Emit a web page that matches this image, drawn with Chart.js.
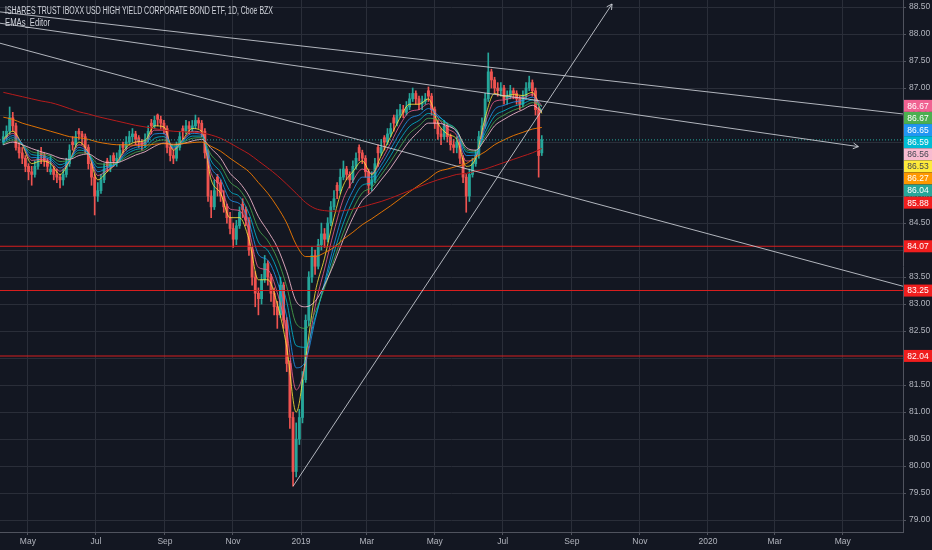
<!DOCTYPE html>
<html lang="en">
<head>
<meta charset="UTF-8">
<title>HYG 1D</title>
<script src="https://cdn.jsdelivr.net/npm/chart.js@4.4.1/dist/chart.umd.min.js"></script>
<style>
  html, body { margin: 0; padding: 0; background: #131722; }
  #wrap { width: 932px; height: 550px; }
</style>
</head>
<body>
<div id="wrap"><canvas id="chart"></canvas></div>
<script>
// ---------- data ----------
const titleText = 'ISHARES TRUST IBOXX USD HIGH YIELD CORPORATE BOND ETF, 1D, Cboe BZX';
const studyText = 'EMAs_Editor';

const viewStart = '2018-04-06';
const viewEnd = '2020-06-24';
const firstCandle = '2018-04-09';
const lastCandle = '2019-08-05';   // candles are spread evenly between these dates

const tickDates = ['2018-05-01','2018-07-01','2018-09-01','2018-11-01','2019-01-01','2019-03-01',
  '2019-05-01','2019-07-01','2019-09-01','2019-11-01','2020-01-01','2020-03-01','2020-05-01'];
const tickLabels = ['May','Jul','Sep','Nov','2019','Mar','May','Jul','Sep','Nov','2020','Mar','May'];

const opens = [
  86.0, 86.1, 86.2, 86.45, 86.3, 85.9, 85.8, 85.7, 85.55, 85.45,
  85.4, 85.55, 85.8, 85.75, 85.65, 85.45, 85.5, 85.4, 85.35, 85.3,
  85.4, 85.6, 86.0, 85.95, 86.2, 86.15, 86.1, 85.9, 85.6, 85.35,
  85.0, 85.1, 85.3, 85.65, 85.55, 85.75, 85.65, 85.7, 85.95, 85.9,
  86.0, 86.1, 86.15, 86.08, 86.0, 85.95, 86.05, 86.35, 86.3, 86.5,
  86.42, 86.35, 86.25, 85.9, 85.75, 85.7, 85.9, 86.25, 86.2, 86.3,
  86.25, 86.3, 86.4, 86.35, 86.2, 85.8, 85.0, 84.8, 85.35, 85.25,
  85.0, 84.8, 84.6, 84.4, 84.2, 84.45, 84.85, 84.75, 84.55, 84.0,
  83.5, 83.2, 83.1, 83.45, 83.75, 83.5, 83.2, 82.95, 82.8, 83.35,
  82.7, 81.9, 80.9, 79.9, 80.5, 80.9, 81.6, 82.7, 83.5, 83.9,
  83.7, 84.1, 84.3, 84.2, 84.5, 84.8, 85.2, 85.1, 85.35, 85.5,
  85.4, 85.3, 85.55, 85.9, 85.8, 85.7, 85.45, 85.2, 85.3, 85.9,
  85.8, 86.08, 86.0, 86.15, 86.45, 86.35, 86.5, 86.6, 86.55, 86.65,
  86.8, 86.9, 86.8, 86.7, 86.75, 86.95, 86.85, 86.6, 86.35, 86.15,
  86.1, 86.3, 86.1, 85.95, 85.9, 86.0, 85.7, 85.35, 85.0, 85.4,
  85.6, 85.75, 86.1, 86.3, 86.8, 87.3, 87.15, 87.0, 86.95, 87.0,
  86.8, 86.85, 86.95, 86.9, 86.8, 86.7, 86.85, 87.0, 87.1, 86.95,
  86.6, 85.8
];
const highs = [
  86.2, 86.3, 86.65, 86.55, 86.35, 86.0, 85.9, 85.75, 85.6, 85.55,
  85.65, 85.85, 85.9, 85.8, 85.7, 85.75, 85.55, 85.5, 85.4, 85.5,
  85.7, 85.95, 86.1, 86.2, 86.25, 86.2, 86.15, 85.95, 85.65, 85.4,
  85.25, 85.4, 85.6, 85.7, 85.75, 85.8, 85.8, 85.95, 86.0, 86.1,
  86.2, 86.25, 86.2, 86.12, 86.05, 86.15, 86.3, 86.42, 86.48, 86.52,
  86.48, 86.4, 86.3, 85.95, 85.85, 86.0, 86.2, 86.3, 86.4, 86.38,
  86.4, 86.5, 86.45, 86.4, 86.25, 85.85, 85.1, 85.3, 85.4, 85.3,
  85.1, 84.85, 84.7, 84.5, 84.55, 84.8, 84.95, 84.8, 84.6, 84.05,
  83.6, 83.3, 83.55, 83.9, 83.8, 83.55, 83.3, 83.05, 83.5, 83.4,
  82.75, 81.95, 81.0, 80.8, 81.05, 81.75, 82.8, 83.6, 84.05, 84.0,
  84.2, 84.5, 84.4, 84.6, 84.9, 85.1, 85.25, 85.5, 85.65, 85.55,
  85.45, 85.65, 85.8, 85.95, 85.85, 85.75, 85.5, 85.45, 85.7, 85.95,
  86.05, 86.12, 86.25, 86.35, 86.5, 86.6, 86.7, 86.68, 86.75, 86.9,
  87.0, 86.95, 86.85, 86.85, 86.9, 87.02, 86.9, 86.65, 86.4, 86.25,
  86.4, 86.35, 86.15, 86.05, 86.1, 86.05, 85.75, 85.4, 85.5, 85.7,
  85.85, 86.2, 86.45, 86.9, 87.65, 87.35, 87.2, 87.1, 87.1, 87.05,
  86.95, 87.05, 87.0, 86.95, 86.85, 86.95, 87.1, 87.22, 87.15, 87.0,
  86.65, 86.12
];
const lows = [
  85.95, 86.05, 86.15, 86.2, 85.85, 85.7, 85.6, 85.45, 85.3, 85.2,
  85.35, 85.5, 85.6, 85.55, 85.45, 85.4, 85.3, 85.25, 85.15, 85.2,
  85.35, 85.55, 85.85, 85.9, 86.05, 85.95, 85.8, 85.5, 85.2, 84.65,
  84.9, 85.05, 85.25, 85.45, 85.45, 85.55, 85.55, 85.65, 85.8, 85.85,
  85.95, 86.0, 85.95, 85.9, 85.85, 85.9, 86.0, 86.15, 86.25, 86.3,
  86.25, 86.15, 85.8, 85.65, 85.6, 85.65, 85.85, 86.05, 86.15, 86.15,
  86.2, 86.25, 86.25, 86.1, 85.7, 84.9, 84.6, 84.75, 85.0, 84.9,
  84.7, 84.5, 84.3, 84.05, 84.1, 84.4, 84.6, 84.45, 83.9, 83.35,
  82.95, 82.8, 83.0, 83.4, 83.35, 83.05, 82.8, 82.55, 82.75, 82.55,
  81.75, 80.7, 79.63, 79.8, 80.4, 80.8, 81.55, 82.6, 83.4, 83.55,
  83.65, 84.0, 84.05, 84.15, 84.45, 84.75, 84.95, 85.05, 85.3, 85.3,
  85.15, 85.25, 85.5, 85.65, 85.6, 85.35, 85.05, 85.1, 85.25, 85.55,
  85.75, 85.85, 85.95, 86.1, 86.2, 86.3, 86.45, 86.45, 86.5, 86.6,
  86.75, 86.7, 86.6, 86.6, 86.7, 86.75, 86.5, 86.25, 86.05, 85.95,
  86.05, 86.0, 85.85, 85.8, 85.8, 85.6, 85.25, 84.7, 84.9, 85.35,
  85.55, 85.7, 86.05, 86.25, 86.75, 87.0, 86.9, 86.85, 86.85, 86.7,
  86.7, 86.8, 86.8, 86.7, 86.6, 86.65, 86.8, 86.95, 86.85, 86.5,
  85.35, 85.75
];
const closes = [
  86.1, 86.2, 86.45, 86.3, 85.9, 85.8, 85.7, 85.55, 85.45, 85.4,
  85.55, 85.7, 85.75, 85.65, 85.55, 85.5, 85.4, 85.35, 85.3, 85.4,
  85.6, 85.85, 85.95, 86.1, 86.15, 86.1, 85.9, 85.6, 85.35, 85.0,
  85.1, 85.3, 85.5, 85.55, 85.6, 85.65, 85.7, 85.85, 85.9, 86.0,
  86.1, 86.15, 86.05, 86.0, 85.95, 86.05, 86.2, 86.3, 86.4, 86.42,
  86.35, 86.25, 85.9, 85.75, 85.7, 85.9, 86.1, 86.2, 86.3, 86.25,
  86.3, 86.4, 86.35, 86.2, 85.8, 85.0, 84.8, 85.1, 85.25, 85.0,
  84.8, 84.6, 84.4, 84.2, 84.45, 84.7, 84.75, 84.55, 84.0, 83.5,
  83.2, 83.1, 83.45, 83.75, 83.5, 83.2, 82.95, 82.8, 83.35, 82.7,
  81.9, 80.9, 79.9, 80.5, 80.9, 81.6, 82.7, 83.5, 83.9, 83.7,
  84.1, 84.3, 84.2, 84.5, 84.8, 84.95, 85.1, 85.35, 85.5, 85.4,
  85.3, 85.55, 85.7, 85.8, 85.7, 85.45, 85.2, 85.3, 85.6, 85.8,
  85.9, 86.0, 86.15, 86.25, 86.35, 86.5, 86.6, 86.55, 86.65, 86.8,
  86.9, 86.8, 86.7, 86.75, 86.8, 86.85, 86.6, 86.35, 86.15, 86.1,
  86.3, 86.1, 85.95, 85.9, 86.0, 85.7, 85.35, 85.0, 85.4, 85.6,
  85.75, 86.1, 86.3, 86.8, 87.3, 87.15, 87.0, 86.95, 87.0, 86.8,
  86.85, 86.95, 86.9, 86.8, 86.7, 86.85, 87.0, 87.1, 86.95, 86.6,
  85.75, 86.04
];

// EMA values, one every 3rd candle
const emaStep = 3;
const emaYellow = [
  86.05, 86.2, 85.95, 85.6, 85.65, 85.6, 85.4, 85.65, 86.0, 85.8,
  85.3, 85.45, 85.62, 85.9, 86.0, 86.03, 86.3, 86.28, 85.85, 86.05,
  86.25, 86.2, 85.3, 85.05, 84.6, 84.6, 84.2, 83.45, 83.45, 83.0,
  82.2, 81.0, 82.0, 83.2, 83.85, 84.6, 85.2, 85.45, 85.65, 85.4,
  85.75, 86.1, 86.45, 86.7, 86.7, 86.8, 86.35, 86.15, 86.05, 85.55,
  85.7, 86.45, 86.9, 86.85, 86.88, 86.86, 86.92, 86.53
];
const emaPink = [
  86.03, 86.16, 85.96, 85.66, 85.68, 85.63, 85.46, 85.65, 85.95, 85.8,
  85.38, 85.48, 85.61, 85.86, 85.95, 85.99, 86.22, 86.22, 85.87, 86.03,
  86.2, 86.17, 85.42, 85.18, 84.76, 84.73, 84.36, 83.68, 83.63, 83.21,
  82.48, 81.41, 81.9, 82.95, 83.65, 84.35, 84.95, 85.28, 85.5, 85.42,
  85.66, 85.98, 86.32, 86.56, 86.6, 86.71, 86.45, 86.25, 86.12, 85.65,
  85.72, 86.35, 86.75, 86.78, 86.82, 86.82, 86.88, 86.67
];
const emaBlue = [
  86.01, 86.12, 85.97, 85.71, 85.72, 85.67, 85.52, 85.66, 85.9, 85.79,
  85.45, 85.52, 85.6, 85.81, 85.9, 85.95, 86.15, 86.16, 85.89, 86.02,
  86.16, 86.14, 85.53, 85.31, 84.93, 84.86, 84.52, 83.92, 83.81, 83.42,
  82.76, 81.82, 81.95, 82.7, 83.4, 84.1, 84.7, 85.1, 85.35, 85.35,
  85.57, 85.87, 86.18, 86.43, 86.5, 86.62, 86.5, 86.33, 86.18, 85.75,
  85.76, 86.25, 86.6, 86.68, 86.74, 86.77, 86.83, 86.65
];
const emaCyan = [
  85.99, 86.08, 85.96, 85.77, 85.75, 85.7, 85.58, 85.67, 85.85, 85.79,
  85.53, 85.55, 85.6, 85.77, 85.86, 85.9, 86.07, 86.1, 85.91, 86.0,
  86.11, 86.11, 85.65, 85.44, 85.09, 84.99, 84.68, 84.15, 83.99, 83.63,
  83.04, 82.23, 82.2, 82.75, 83.35, 83.95, 84.5, 84.92, 85.2, 85.25,
  85.48, 85.75, 86.05, 86.29, 86.4, 86.53, 86.47, 86.35, 86.22, 85.82,
  85.8, 86.17, 86.48, 86.58, 86.66, 86.71, 86.78, 86.59
];
const emaGreen = [
  85.97, 86.04, 85.95, 85.82, 85.79, 85.74, 85.64, 85.67, 85.8, 85.78,
  85.6, 85.59, 85.61, 85.72, 85.81, 85.86, 86.0, 86.04, 85.93, 85.99,
  86.07, 86.08, 85.76, 85.57, 85.26, 85.12, 84.84, 84.39, 84.17, 83.84,
  83.32, 82.64, 82.55, 82.85, 83.3, 83.82, 84.33, 84.75, 85.06, 85.16,
  85.39, 85.64, 85.91, 86.16, 86.3, 86.44, 86.42, 86.33, 86.22, 85.86,
  85.83, 86.1, 86.38, 86.5, 86.59, 86.65, 86.73, 86.67
];
const emaLight = [
  85.95, 86.0, 85.95, 85.88, 85.82, 85.77, 85.7, 85.68, 85.75, 85.78,
  85.68, 85.62, 85.62, 85.68, 85.76, 85.82, 85.92, 85.98, 85.95, 85.97,
  86.02, 86.05, 85.88, 85.7, 85.42, 85.25, 85.0, 84.62, 84.35, 84.05,
  83.6, 83.05, 82.95, 83.05, 83.35, 83.75, 84.2, 84.6, 84.92, 85.08,
  85.3, 85.52, 85.78, 86.02, 86.2, 86.35, 86.35, 86.3, 86.2, 85.9,
  85.85, 86.05, 86.3, 86.42, 86.52, 86.6, 86.68, 86.56
];
const emaOrange = [
  86.46, 86.42, 86.35, 86.3, 86.25, 86.2, 86.15, 86.1, 86.08, 86.05,
  86.0, 85.97, 85.95, 85.95, 85.94, 85.94, 85.96, 85.97, 85.96, 85.97,
  85.99, 86.0, 85.92, 85.83, 85.7, 85.58, 85.45, 85.25, 85.05, 84.8,
  84.5, 84.1, 83.88, 83.88, 83.95, 84.05, 84.2, 84.33, 84.47, 84.58,
  84.7, 84.82, 84.95, 85.08, 85.2, 85.32, 85.45, 85.5, 85.55, 85.6,
  85.72, 85.82, 85.95, 86.04, 86.12, 86.18, 86.24, 86.27
];
const emaRed = [
  86.92, 86.88, 86.84, 86.8, 86.76, 86.73, 86.68, 86.62, 86.56, 86.52,
  86.47, 86.43, 86.39, 86.35, 86.31, 86.28, 86.25, 86.22, 86.2, 86.19,
  86.18, 86.17, 86.13, 86.07, 85.98, 85.88, 85.78, 85.65, 85.52, 85.38,
  85.22, 85.05, 84.88, 84.77, 84.73, 84.72, 84.73, 84.76, 84.8, 84.85,
  84.9, 84.96, 85.03, 85.1, 85.17, 85.24, 85.3, 85.35, 85.4, 85.42,
  85.46, 85.5, 85.56, 85.62, 85.68, 85.74, 85.8, 85.88
];

// drawn lines: [date, price] end points
const trendLines = [
  { from: ['2018-04-06', 88.41], to: ['2020-06-24', 86.52], arrow: false },
  { from: ['2018-04-06', 88.20], to: ['2020-05-15', 85.915], arrow: true },
  { from: ['2018-04-06', 87.83], to: ['2020-06-24', 83.33], arrow: false },
  { from: ['2018-12-25', 79.63], to: ['2019-10-07', 88.556], arrow: true }
];
const levels = [84.07, 83.25, 82.04];

// ---------- helpers ----------
const day0 = Date.UTC(2019, 0, 1);
function dayOf(s) {
  const [y, m, d] = s.split('-').map(Number);
  return (Date.UTC(y, m - 1, d) - day0) / 864e5;
}

const xMin = dayOf(viewStart), xMax = dayOf(viewEnd);
const n = closes.length;
const c0 = dayOf(firstCandle), c1 = dayOf(lastCandle);
const candleX = closes.map((c, i) => c0 + i * (c1 - c0) / (n - 1));
const emaX = emaYellow.map((v, k) => candleX[k * emaStep]);

const up = '#26a69a', down = '#ef5350';
const candleColor = closes.map((c, i) => c >= opens[i] ? up : down);

const FONT = '"Liberation Sans", Arial, sans-serif';
Chart.defaults.font.family = FONT;
Chart.defaults.font.size = 8.5;
Chart.defaults.color = '#b2b5be';

function emaLine(vals, color) {
  return {
    type: 'line',
    data: vals.map((y, k) => ({ x: emaX[k], y })),
    borderColor: color, borderWidth: 1, pointRadius: 0,
    cubicInterpolationMode: 'monotone', order: 5
  };
}

const datasets = [
  { type: 'bar', data: candleX.map((x, i) => ({ x, y: [lows[i], highs[i]] })),
    backgroundColor: candleColor, barThickness: 1, grouped: false, order: 10 },
  { type: 'bar', data: candleX.map((x, i) => ({ x, y: [opens[i], closes[i]] })),
    backgroundColor: candleColor, barThickness: 2.2, minBarLength: 1, grouped: false, order: 9 },
  emaLine(emaRed, '#b71c1c'),
  emaLine(emaOrange, 'rgba(245,124,0,0.9)'),
  emaLine(emaLight, 'rgba(248,187,208,0.85)'),
  emaLine(emaGreen, 'rgba(76,175,80,0.8)'),
  emaLine(emaCyan, 'rgba(0,188,212,0.8)'),
  emaLine(emaBlue, 'rgba(33,150,243,0.8)'),
  emaLine(emaPink, 'rgba(240,98,146,0.8)'),
  emaLine(emaYellow, 'rgba(255,235,59,0.8)'),
  { type: 'line', data: [{ x: xMin, y: closes[n - 1] }, { x: xMax, y: closes[n - 1] }],
    borderColor: up, borderWidth: 1, borderDash: [1, 2], pointRadius: 0, order: 3 }
];
levels.forEach(v => datasets.push({
  type: 'line', data: [{ x: xMin, y: v }, { x: xMax, y: v }],
  borderColor: '#d81e1e', borderWidth: 1.1, pointRadius: 0, order: 2
}));
trendLines.forEach(t => datasets.push({
  type: 'line',
  data: [{ x: dayOf(t.from[0]), y: t.from[1] }, { x: dayOf(t.to[0]), y: t.to[1] }],
  borderColor: 'rgba(206,209,216,0.85)', borderWidth: 1, pointRadius: 0, order: 1
}));

// price tags on the right axis
const priceTags = [
  { v: emaPink[emaPink.length - 1], bg: '#f06292', fg: '#ffffff' },
  { v: emaGreen[emaGreen.length - 1], bg: '#4caf50', fg: '#ffffff' },
  { v: emaBlue[emaBlue.length - 1], bg: '#2196f3', fg: '#ffffff' },
  { v: emaCyan[emaCyan.length - 1], bg: '#00bcd4', fg: '#ffffff' },
  { v: emaLight[emaLight.length - 1], bg: '#f8bbd0', fg: '#434651' },
  { v: emaYellow[emaYellow.length - 1], bg: '#ffeb3b', fg: '#434651' },
  { v: emaOrange[emaOrange.length - 1], bg: '#ff9800', fg: '#ffffff' },
  { v: closes[n - 1], bg: up, fg: '#ffffff' },
  { v: emaRed[emaRed.length - 1], bg: '#f01e1e', fg: '#ffffff' }
].sort((a, b) => b.v - a.v);

const overlay = {
  id: 'overlay',
  afterDatasetsDraw(chart) {
    const { ctx, scales: { x, y } } = chart;
    ctx.save();
    ctx.strokeStyle = 'rgba(206,209,216,0.9)';
    ctx.lineWidth = 1;
    trendLines.filter(t => t.arrow).forEach(t => {
      const x0 = x.getPixelForValue(dayOf(t.from[0])), y0 = y.getPixelForValue(t.from[1]);
      const x1 = x.getPixelForValue(dayOf(t.to[0])), y1 = y.getPixelForValue(t.to[1]);
      const ang = Math.atan2(y1 - y0, x1 - x0);
      ctx.beginPath();
      [0.5, -0.5].forEach(d => {
        ctx.moveTo(x1, y1);
        ctx.lineTo(x1 - 6 * Math.cos(ang + d), y1 - 6 * Math.sin(ang + d));
      });
      ctx.stroke();
    });
    ctx.restore();
  },
  afterDraw(chart) {
    const { ctx, chartArea: a, scales: { y } } = chart;
    const w = chart.width - a.right;
    ctx.save();
    ctx.font = '8.5px ' + FONT;
    ctx.textAlign = 'center';
    ctx.textBaseline = 'middle';
    const tag = (yc, bg, fg, v) => {
      ctx.fillStyle = bg;
      ctx.fillRect(a.right + 1, yc - 6, w - 1, 12);
      ctx.fillStyle = fg;
      ctx.fillText(v.toFixed(2), a.right + w / 2 + 0.5, yc + 0.5);
    };
    let prev = -Infinity;
    priceTags.forEach(t => {
      const yc = Math.max(y.getPixelForValue(t.v), prev + 12.1);
      prev = yc;
      tag(yc, t.bg, t.fg, t.v);
    });
    levels.forEach(v => tag(y.getPixelForValue(v), '#f01e1e', '#ffffff', v));

    ctx.textAlign = 'left';
    ctx.textBaseline = 'alphabetic';
    ctx.fillStyle = '#d1d4dc';
    ctx.font = '10px ' + FONT;
    ctx.fillText(titleText, 5, 14, 268);
    ctx.fillText(studyText, 5, 26, 45);
    ctx.restore();
  }
};

const tickDays = tickDates.map(dayOf);

new Chart(document.getElementById('chart'), {
  type: 'bar',
  data: { datasets },
  plugins: [overlay],
  options: {
    responsive: true,
    maintainAspectRatio: false,
    animation: false,
    events: [],
    layout: { padding: 0 },
    plugins: { legend: { display: false }, tooltip: { enabled: false } },
    scales: {
      x: {
        type: 'linear', min: xMin, max: xMax, offset: false,
        grid: { offset: false, color: '#2a2e39', tickLength: 3, tickColor: '#50535e' },
        border: { color: '#50535e' },
        afterBuildTicks: s => { s.ticks = tickDays.map(v => ({ value: v })); },
        afterFit: s => { s.height = 18; s.paddingLeft = 0; s.paddingRight = 0; },
        ticks: { autoSkip: false, maxRotation: 0, padding: 2,
          callback: (v, i) => tickLabels[i] }
      },
      y: {
        position: 'right', min: 78.78, max: 88.63,
        grid: { color: '#2a2e39', tickLength: 3, tickColor: '#50535e' },
        border: { color: '#50535e' },
        afterFit: s => { s.width = 29; s.paddingTop = 0; s.paddingBottom = 0; },
        ticks: { stepSize: 0.5, includeBounds: false, padding: 3,
          callback: v => v.toFixed(2) }
      }
    }
  }
});
</script>
</body>
</html>
